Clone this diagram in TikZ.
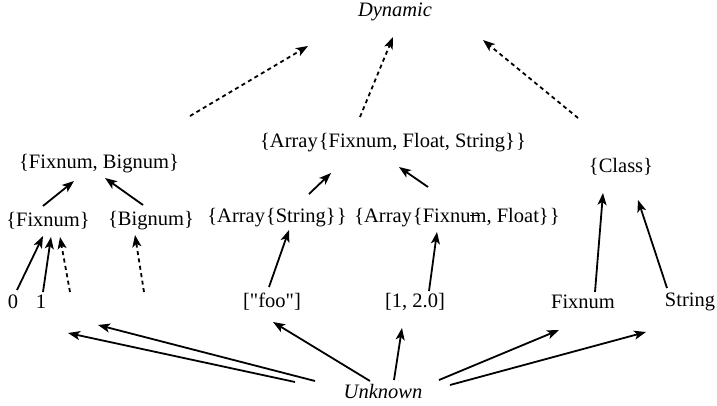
\documentclass[tikz,border=0pt]{standalone}
\usepackage{fontspec}
\setmainfont{Liberation Serif}
\newfontfamily\plainrm{Liberation Serif}
\usetikzlibrary{arrows.meta}
\begin{document}
\begin{tikzpicture}[x=1pt,y=-1pt,
  lbl/.style={inner sep=0pt,font=\fontsize{20.5}{24}\selectfont},
  arr/.style={line width=1.8pt,-{Stealth[length=12pt,width=9pt,inset=3pt]}},
  darr/.style={arr,dash pattern=on 4pt off 3.5pt}]
\useasboundingbox (0,0) rectangle (717,406);
% nodes
\node[lbl] (dyn) at (395,12) {\itshape Dynamic};
\node[lbl] (fb) at (99,164) {\{Fixnum, Bignum\}};
\node[lbl] (fx) at (48,221) {\{Fixnum\}};
\node[lbl] (bg) at (151,221) {\{Bignum\}};
\node[lbl] (zero) at (13,302) {0};
\node[lbl] (one) at (41,302) {1};
\node[lbl] (affs) at (393,143) {\{Array\kern1pt\{Fixnum, Float, String\}\kern1pt\}};
\node[lbl] (as) at (277,218) {\{Array\kern1pt\{String\}\kern1pt\}};
\node[lbl] (aff) at (457,218) {\{Array\kern1pt\{Fixnum, Float\}\kern1pt\}};
\node[lbl] (foo) at (272,302) {\plainrm ["foo"]};
\node[lbl] (ar) at (415,302) {[1, 2.0]};
\node[lbl] (cls) at (621,167) {\{Class\}};
\node[lbl] (fxn) at (583,302) {Fixnum};
\node[lbl] (str) at (690,302) {String};
\node[lbl] (unk) at (383,391) {\itshape Unknown};
% arrow end points
\coordinate (a1) at (43,206);  \coordinate (b1) at (74,181);
\coordinate (a2) at (143,205); \coordinate (b2) at (105,178);
\coordinate (a3) at (17,290);  \coordinate (b3) at (43,236);
\coordinate (a4) at (43,292);  \coordinate (b4) at (51,237);
\coordinate (a5) at (70,292);  \coordinate (b5) at (60,237);
\coordinate (a6) at (144,292); \coordinate (b6) at (135,235);
\coordinate (a7) at (190,116); \coordinate (b7) at (308,46);
\coordinate (a8) at (360,117); \coordinate (b8) at (393,37);
\coordinate (a9) at (578,118); \coordinate (b9) at (483,40);
\coordinate (a10) at (309,194); \coordinate (b10) at (331,173);
\coordinate (a11) at (428,187); \coordinate (b11) at (399,167);
\coordinate (a12) at (269,287); \coordinate (b12) at (289,230);
\coordinate (a13) at (429,291); \coordinate (b13) at (437,232);
\coordinate (a14) at (595,292); \coordinate (b14) at (603,193);
\coordinate (a15) at (667,288); \coordinate (b15) at (638,200);
\coordinate (a16) at (295,382); \coordinate (b16) at (68,333);
\coordinate (a17) at (315,381); \coordinate (b17) at (98,325);
\coordinate (a18) at (370,381); \coordinate (b18) at (273,322);
\coordinate (a19) at (394,380); \coordinate (b19) at (402,328);
\coordinate (a20) at (439,380); \coordinate (b20) at (559,330);
\coordinate (a21) at (450,385); \coordinate (b21) at (646,332);
% solid arrows
\foreach \i in {1,2,3,4,10,11,12,13,14,15,16,17,18,19,20,21}
  \draw[arr] (a\i) -- (b\i);
% dashed arrows
\foreach \i in {5,6,7,8,9}
  \draw[darr] (a\i) -- (b\i);
% small stroke over "Fixnum"
\coordinate (s1) at (470,215); \coordinate (s2) at (480,215);
\draw[line width=0.7pt] (s1) -- (s2);
\end{tikzpicture}
\end{document}
